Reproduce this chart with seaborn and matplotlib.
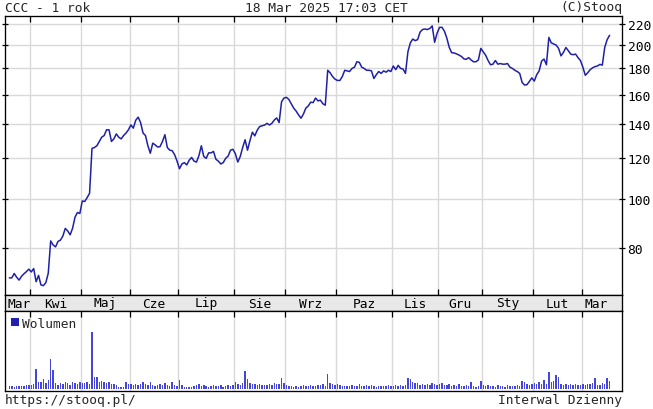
import numpy as np
import matplotlib
matplotlib.use("Agg")
import matplotlib.pyplot as plt
import seaborn as sns
from matplotlib.patches import Patch
from matplotlib.ticker import NullLocator

# ---------------- data (daily closes, PLN, grouped by month) ----------------
month_labels = ["Mar", "Kwi", "Maj", "Cze", "Lip", "Sie", "Wrz",
                "Paz", "Lis", "Gru", "Sty", "Lut", "Mar"]

close_mar24 = [70.0, 70.0, 71.4, 70.2, 69.3, 70.5, 71.3, 72.0, 72.8]
close_apr24 = [71.9, 73.0, 68.8, 70.8, 67.8, 67.6, 68.5, 71.5, 82.7, 81.2, 80.5,
               82.5, 83.0, 84.5, 87.5, 86.5, 85.0, 87.5, 92.0, 94.0, 93.6]
close_may24 = [99.0, 98.8, 100.5, 102.5, 125.5, 126.0, 127.0, 129.5, 132.0, 133.0,
               136.5, 136.5, 129.5, 131.0, 134.0, 132.0, 131.0, 133.0, 134.5, 136.5]
close_jun24 = [139.5, 137.5, 142.5, 144.5, 141.0, 134.5, 133.0, 127.0, 122.8, 128.5,
               127.5, 126.3, 126.5, 129.5, 133.5, 126.0, 124.5, 124.2, 122.0, 118.5]
close_jul24 = [114.5, 117.0, 117.7, 116.5, 119.0, 120.5, 118.5, 118.0, 121.5, 127.0,
               121.0, 120.0, 123.0, 123.0, 123.8, 119.5, 118.5, 117.0, 117.7, 120.0,
               121.2, 124.5, 125.0]
close_aug24 = [122.5, 118.0, 121.0, 126.0, 130.5, 124.5, 130.0, 135.0, 132.8, 136.3,
               138.5, 139.0, 139.4, 140.5, 139.5, 140.5, 142.6, 144.0, 141.0, 154.8,
               157.5]
close_sep24 = [158.0, 156.5, 153.5, 150.5, 148.5, 146.0, 143.8, 146.5, 150.5, 152.0,
               154.6, 154.3, 157.5, 155.5, 156.0, 153.5, 152.5, 178.5, 176.5, 173.5,
               171.5]
close_oct24 = [170.5, 170.5, 173.5, 178.5, 178.0, 177.5, 180.0, 181.0, 185.5, 185.0,
               181.0, 180.0, 178.5, 178.5, 178.0, 172.0, 175.0, 177.5, 176.0, 178.0,
               177.0, 178.5, 177.5]
close_nov24 = [182.0, 179.0, 182.5, 180.0, 179.5, 176.0, 194.0, 202.0, 205.5, 204.0,
               205.0, 212.0, 214.5, 215.0, 214.5, 215.5, 218.0, 202.5, 211.0]
close_dec24 = [216.5, 216.7, 213.0, 206.5, 198.0, 193.2, 193.0, 192.2, 191.2, 190.0,
               188.0, 187.5, 189.0, 187.0, 185.5, 185.5, 187.0, 197.0]
close_jan25 = [194.0, 191.0, 186.5, 183.0, 183.5, 186.5, 183.5, 184.0, 183.5, 183.5,
               184.0, 181.0, 180.0, 178.5, 177.5, 176.0, 169.0, 167.0, 167.3, 169.8,
               172.5]
close_feb25 = [170.0, 175.0, 178.0, 186.0, 187.8, 183.0, 207.0, 202.0, 201.0, 200.0,
               197.0, 190.5, 193.5, 197.8, 195.0, 192.0, 191.5, 192.0, 189.0, 186.5]
close_mar25 = [181.0, 174.5, 176.5, 179.0, 180.5, 181.5, 182.0, 183.3, 182.7, 198.0,
               205.0, 209.0]

# volume (relative units)
vol_mar24 = [3, 3, 2.5, 3, 3, 3.5, 3, 4, 4]
vol_apr24 = [4, 5, 20, 7, 7, 10, 6, 9, 30, 19, 6, 4, 6, 5, 7, 6, 4, 7, 6, 5, 7]
vol_may24 = [6, 6, 7, 5, 57, 12, 12, 7, 8, 7, 6, 7, 5, 5, 4, 2, 2, 2, 7, 5]
vol_jun24 = [5, 4, 5, 4, 5, 7, 5, 4, 7, 4, 3, 4, 5, 4, 6, 4, 3, 7, 4, 3]
vol_jul24 = [9, 4, 2, 2, 2, 2, 3, 4, 5, 3, 4, 3, 2, 3, 4, 3, 3, 4, 2, 3, 4, 3, 4]
vol_aug24 = [7, 5, 4, 6, 18, 10, 6, 5, 5, 4, 5, 4, 4, 4, 5, 4, 6, 5, 5, 11, 6]
vol_sep24 = [4, 3, 3, 2, 3, 2, 3, 4, 3, 3, 4, 3, 3, 4, 4, 5, 3, 15, 6, 5, 4]
vol_oct24 = [5, 4, 3, 3, 3, 3, 4, 3, 3, 5, 3, 3, 4, 3, 4, 3, 2, 3, 3, 3, 3, 4, 3]
vol_nov24 = [3, 4, 3, 4, 3, 4, 11, 10, 7, 6, 6, 4, 5, 4, 5, 4, 6, 5, 4]
vol_dec24 = [5, 6, 4, 4, 5, 3, 4, 3, 5, 3, 3, 4, 3, 7, 3, 2, 3, 8]
vol_jan25 = [4, 3, 4, 3, 3, 2, 4, 3, 3, 2, 4, 3, 3, 3, 4, 3, 8, 7, 5, 4, 5]
vol_feb25 = [6, 5, 7, 5, 9, 5, 17, 7, 8, 14, 12, 5, 4, 5, 4, 5, 4, 5, 4, 4]
vol_mar25 = [5, 4, 5, 5, 6, 11, 4, 4, 6, 5, 11, 8]

price_ticks = [80, 100, 120, 140, 160, 180, 200, 220]

title_left = "CCC - 1 rok"
title_mid = "18 Mar 2025 17:03 CET"
title_right = "(C)Stooq"
foot_left = "https://stooq.pl/"
foot_right = "Interwal Dzienny"
vol_label = "Wolumen"

close_by_month = [close_mar24, close_apr24, close_may24, close_jun24, close_jul24,
                  close_aug24, close_sep24, close_oct24, close_nov24, close_dec24,
                  close_jan25, close_feb25, close_mar25]
vol_by_month = [vol_mar24, vol_apr24, vol_may24, vol_jun24, vol_jul24, vol_aug24,
                vol_sep24, vol_oct24, vol_nov24, vol_dec24, vol_jan25, vol_feb25,
                vol_mar25]

close = np.concatenate(close_by_month)
volume = np.concatenate(vol_by_month).astype(float)
day = np.arange(len(close))
lengths = [len(m) for m in close_by_month]
ends = np.cumsum(lengths) - 0.5
starts = np.concatenate([[-0.5], ends[:-1]])
bounds = ends[:-1]

# ---------------- style ----------------
sns.set_theme(style="white")
plt.rcParams["font.family"] = ["DejaVu Sans Mono", "DejaVu Sans"]
FS = 9.3
LINE = "#2020a6"
BAR = "#4646d6"
GRID = "#d9d9d9"

W, H = 653, 410
fig = plt.figure(figsize=(W / 100, H / 100), dpi=100)
fig.patch.set_facecolor("white")


def rect(l, t, r, b):
    return [l / W, 1 - b / H, (r - l) / W, (b - t) / H]


ax = fig.add_axes(rect(5, 17, 622, 296))
band = fig.add_axes(rect(5, 296, 622, 312))
axv = fig.add_axes(rect(5, 312, 622, 392))

XL = (-1.8, 252.1)

# ---- price panel ----
sns.lineplot(x=day, y=close, ax=ax, color=LINE, linewidth=1.1)
ax.set_yscale("log")
ax.set_ylim(64.8, 228)
ax.set_xlim(*XL)
ax.set_yticks(price_ticks)
ax.set_yticklabels([str(t) for t in price_ticks])
ax.yaxis.set_minor_locator(NullLocator())
ax.set_xticks(bounds)
ax.set_xticklabels([])
ax.grid(True, color=GRID, linewidth=1.0)
ax.set_axisbelow(True)
ax.tick_params(axis="y", which="major", left=True, right=True, labelleft=False,
               labelright=True, direction="inout", length=4, width=0.9,
               color="black", pad=2, labelsize=FS, labelcolor="black")
ax.tick_params(axis="x", which="major", top=True, bottom=True, direction="in",
               length=4, width=0.9, color="black", labelbottom=False)
ax.set_xlabel("")
ax.set_ylabel("")

# ---- month band ----
band.set_facecolor("#e8e8e8")
band.set_xlim(*XL)
band.set_ylim(0, 1)
band.set_xticks([])
band.set_yticks([])
for lab, s, e in zip(month_labels, starts, ends):
    s2, e2 = max(s, XL[0]), min(e, XL[1])
    band.text((s2 + e2) / 2, 0.5, lab, ha="center", va="center",
              fontsize=FS, color="black")

# ---- volume panel ----
sns.barplot(x=day, y=volume, native_scale=True, ax=axv, color=BAR,
            saturation=1, width=0.6, errorbar=None, linewidth=0)
vmax = volume.max()
axv.set_xlim(*XL)
axv.set_ylim(-vmax * 0.035, vmax * 1.37)
axv.set_xticks(bounds)
axv.set_xticklabels([])
axv.set_yticks([])
axv.grid(True, axis="x", color=GRID, linewidth=1.0)
axv.grid(False, axis="y")
axv.set_axisbelow(True)
axv.tick_params(axis="x", which="major", top=True, bottom=False, direction="in",
                length=4, width=0.9, color="black", labelbottom=False)
axv.set_xlabel("")
axv.set_ylabel("")
axv.legend(handles=[Patch(facecolor="#2020b0", edgecolor="none", label=vol_label)],
           loc="upper left", frameon=False, handlelength=0.6, handleheight=0.6,
           handletextpad=0.3, borderaxespad=0.25, borderpad=0.2,
           prop={"family": "DejaVu Sans Mono", "size": FS})

for a in (ax, band, axv):
    for sp in a.spines.values():
        sp.set_color("black")
        sp.set_linewidth(0.95)
        sp.set_visible(True)

# ---- header & footer ----
ty = 1 - 8 / H
fig.text(5 / W, ty, title_left, ha="left", va="center", fontsize=FS)
fig.text(326 / W, ty, title_mid, ha="center", va="center", fontsize=FS)
fig.text(622 / W, ty, title_right, ha="right", va="center", fontsize=FS)
fy = 1 - 401 / H
fig.text(5 / W, fy, foot_left, ha="left", va="center", fontsize=FS)
fig.text(622 / W, fy, foot_right, ha="right", va="center", fontsize=FS)

fig.savefig("out.png", dpi=100, facecolor="white")
